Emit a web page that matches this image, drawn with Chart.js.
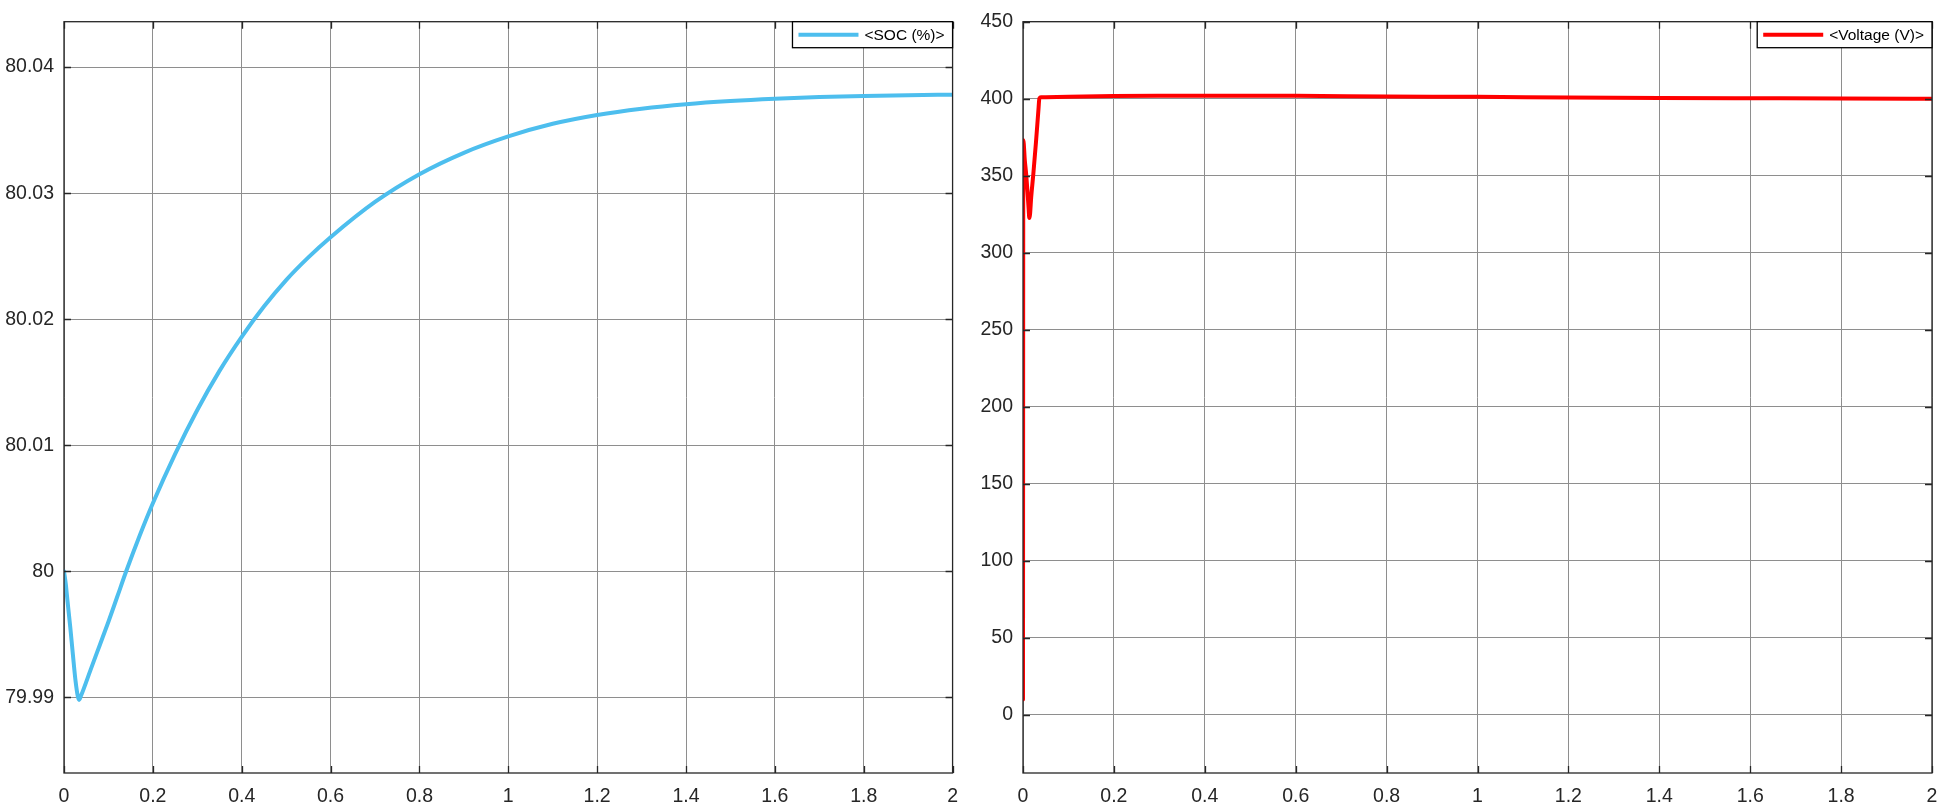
<!DOCTYPE html>
<html>
<head>
<meta charset="utf-8">
<script src="https://cdn.jsdelivr.net/npm/chart.js@4"></script>
<style>
  html, body { margin: 0; padding: 0; background: #ffffff; }
  body { width: 1959px; height: 808px; position: relative; overflow: hidden; }
  .pane { position: absolute; top: 0; height: 808px; }
  #p1 { left: 0; width: 970px; }
  #p2 { left: 970px; width: 989px; }
</style>
</head>
<body>
<div class="pane" id="p1"><canvas id="c1"></canvas></div>
<div class="pane" id="p2"><canvas id="c2"></canvas></div>
<script>
// ---- data ----
const timeTicks = [0, 0.2, 0.4, 0.6, 0.8, 1, 1.2, 1.4, 1.6, 1.8, 2];
const socTicks = [79.99, 80, 80.01, 80.02, 80.03, 80.04];
const voltTicks = [0, 50, 100, 150, 200, 250, 300, 350, 400, 450];

const socLabel = '<SOC (%)>';
const socTime = [0, 0.004, 0.008, 0.014, 0.02, 0.026, 0.031, 0.034, 0.038, 0.06, 0.08, 0.1, 0.12, 0.14, 0.17, 0.2,
  0.25, 0.3, 0.35, 0.4, 0.45, 0.5, 0.55, 0.6, 0.7, 0.8, 0.9, 1.0, 1.1, 1.2, 1.3, 1.4, 1.5, 1.6, 1.7, 1.8, 1.9, 2.0];
const socValue = [80.0000, 79.9990, 79.9976, 79.9956, 79.9934, 79.9913, 79.9901, 79.9898, 79.9901, 79.9922, 79.9941, 79.9960, 79.9980, 80.0000, 80.0028, 80.0054,
  80.0093, 80.0128, 80.0159, 80.0186, 80.0210, 80.0231, 80.0249, 80.0265, 80.0293, 80.0315, 80.0332, 80.0345, 80.0355, 80.0362,
  80.03670, 80.03706, 80.03731, 80.03749, 80.03762, 80.03771, 80.03777, 80.03781];

const voltLabel = '<Voltage (V)>';
const voltTime = [0, 0.0007, 0.004, 0.007, 0.010, 0.0125, 0.0139, 0.0155, 0.018, 0.0227, 0.0286, 0.034, 0.036, 0.04,
  0.05, 0.1, 0.2, 0.3, 0.4, 0.5, 0.6, 0.8, 1.0, 1.2, 1.4, 1.6, 1.8, 2.0];
const voltValue = [10, 373, 360, 351, 339, 328, 322.5, 325, 336, 351, 372, 393, 400.2, 400.9,
  401.0, 401.3, 401.7, 401.9, 402.0, 402.0, 401.9, 401.5, 401.2, 400.8, 400.5, 400.3, 400.1, 400.0];

// ---- styling helpers ----
const FONT = "'Liberation Sans', Arial, Helvetica, sans-serif";
const AXIS_COLOR = '#262626';
const GRID_COLOR = '#8e8e8e';

function fmt(v) { return String(parseFloat(Number(v).toFixed(4))); }

const framePlugin = {
  id: 'frameTicks',
  afterDraw(chart) {
    const { ctx, chartArea: a, scales } = chart;
    const x = scales.x, y = scales.y;
    const L = 7;
    ctx.save();
    ctx.strokeStyle = AXIS_COLOR;
    ctx.lineWidth = 1.3;
    ctx.beginPath();
    x.ticks.forEach(t => {
      const px = Math.round(x.getPixelForValue(t.value)) + 0.5;
      ctx.moveTo(px, a.bottom); ctx.lineTo(px, a.bottom - L);
      ctx.moveTo(px, a.top); ctx.lineTo(px, a.top + L);
    });
    y.ticks.forEach(t => {
      const py = Math.round(y.getPixelForValue(t.value)) + 0.5;
      ctx.moveTo(a.left, py); ctx.lineTo(a.left + L, py);
      ctx.moveTo(a.right, py); ctx.lineTo(a.right - L, py);
    });
    ctx.stroke();
    ctx.strokeRect(a.left, a.top, a.right - a.left, a.bottom - a.top);

    // legend box (top-right, inside the axes)
    const ds = chart.data.datasets[0];
    ctx.font = '15.5px ' + FONT;
    const tw = ctx.measureText(ds.label).width;
    const bw = 6 + 60 + 6 + tw + 8;
    const bh = 26;
    const bx = a.right - bw;
    const by = a.top;
    ctx.fillStyle = '#ffffff';
    ctx.fillRect(bx, by, bw, bh);
    ctx.strokeStyle = '#000000';
    ctx.lineWidth = 1.3;
    ctx.strokeRect(bx, by, bw, bh);
    ctx.strokeStyle = ds.borderColor;
    ctx.lineWidth = 4;
    ctx.beginPath();
    ctx.moveTo(bx + 6, by + bh / 2);
    ctx.lineTo(bx + 66, by + bh / 2);
    ctx.stroke();
    ctx.fillStyle = '#000000';
    ctx.textBaseline = 'middle';
    ctx.textAlign = 'left';
    ctx.fillText(ds.label, bx + 72, by + bh / 2 + 1);
    ctx.restore();
  }
};

function makeChart(id, label, times, values, color, yTicks, yMin, yMax, yAxisWidth, padRight) {
  const pts = times.map((t, i) => ({ x: t, y: values[i] }));
  return new Chart(document.getElementById(id), {
    type: 'line',
    data: {
      datasets: [{
        label: label,
        data: pts,
        borderColor: color,
        backgroundColor: color,
        borderWidth: 4,
        pointRadius: 0,
        cubicInterpolationMode: 'monotone',
        borderJoinStyle: 'round',
        borderCapStyle: 'round',
        fill: false
      }]
    },
    options: {
      responsive: true,
      maintainAspectRatio: false,
      animation: false,
      layout: { padding: { top: 14, right: padRight, bottom: 0, left: 0 } },
      plugins: { legend: { display: false }, tooltip: { enabled: false } },
      scales: {
        x: {
          type: 'linear',
          min: 0, max: 2,
          afterBuildTicks: s => { s.ticks = timeTicks.map(v => ({ value: v })); },
          afterFit: s => { s.height = 35; },
          grid: { color: GRID_COLOR, lineWidth: 1, drawTicks: false },
          border: { display: false },
          ticks: {
            padding: 12,
            maxRotation: 0,
            autoSkip: false,
            color: AXIS_COLOR,
            font: { family: FONT, size: 19.5 },
            callback: v => fmt(v)
          }
        },
        y: {
          type: 'linear',
          min: yMin, max: yMax,
          afterBuildTicks: s => { s.ticks = yTicks.map(v => ({ value: v })); },
          afterFit: s => { s.width = yAxisWidth; },
          grid: { color: GRID_COLOR, lineWidth: 1, drawTicks: false },
          border: { display: false },
          ticks: {
            padding: 10,
            autoSkip: false,
            color: AXIS_COLOR,
            font: { family: FONT, size: 19.5 },
            callback: v => fmt(v)
          }
        }
      }
    },
    plugins: [framePlugin]
  });
}

makeChart('c1', socLabel, socTime, socValue, '#4DBEEE', socTicks, 79.984, 80.0436, 64, 15);
makeChart('c2', voltLabel, voltTime, voltValue, '#FF0000', voltTicks, -37.8, 450, 53, 27);
</script>
</body>
</html>
